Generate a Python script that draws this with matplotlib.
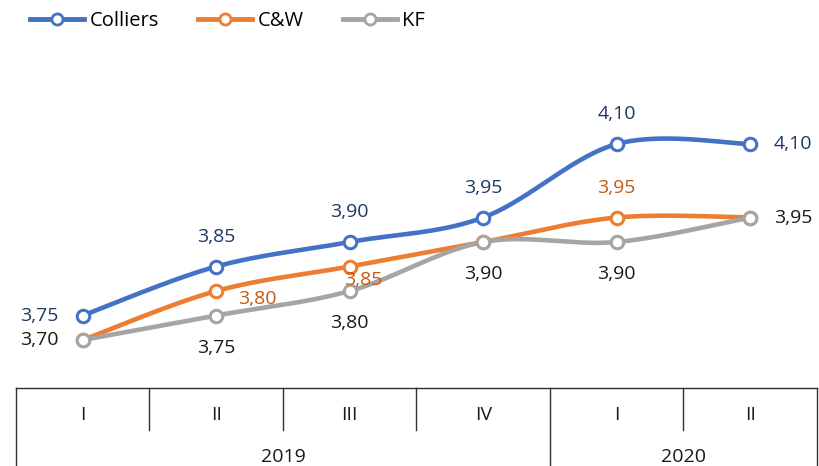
import numpy as np
import matplotlib
matplotlib.use("Agg")
import matplotlib.pyplot as plt
from matplotlib.lines import Line2D

plt.rcParams['font.family'] = ['Open Sans', 'DejaVu Sans']

quarters = ["I", "II", "III", "IV", "I", "II"]
years = ["2019", "2020"]
year_spans = [(0, 3), (4, 5)]
series_names = ["Colliers", "C&W", "KF"]
colliers = [3.75, 3.85, 3.90, 3.95, 4.10, 4.10]
cw = [3.70, 3.80, 3.85, 3.90, 3.95, 3.95]
kf = [3.70, 3.75, 3.80, 3.90, 3.90, 3.95]

colors = ["#4472C4", "#ED7D31", "#A5A5A5"]
label_colors = ["#1F3864", "#C55A11", "#1a1a1a"]

# label placement per point (offset in points from the marker); None = no label
pos_colliers = ["left", "above", "above", "above", "above", "right"]
pos_cw = [None, "right_low", "below_right", None, "above", None]
pos_kf = ["left", "below", "below", "below", "below", "right"]

W, H = 820, 466
fig = plt.figure(figsize=(W / 100, H / 100), dpi=100)

def fx(px):
    return px / W

def fy(py):
    return 1 - py / H

ax_top, ax_bot = 40, 388
ax = fig.add_axes([fx(16), fy(ax_bot), fx(817) - fx(16), (ax_bot - ax_top) / H])
ax.set_xlim(-0.5, 5.5)
ax.set_ylim(3.70 - 48 / 490, 3.70 + 300 / 490)
ax.axis("off")


def smooth(xs, ys, n=40):
    pts = np.column_stack([xs, ys]).astype(float)
    ext = np.vstack([pts[0], pts, pts[-1]])
    out = []
    for i in range(len(pts) - 1):
        p0 = ext[i + 1]
        p3 = ext[i + 2]
        c1 = p0 + (ext[i + 2] - ext[i]) / 6
        c2 = p3 - (ext[i + 3] - ext[i + 1]) / 6
        t = np.linspace(0, 1, n)[:, None]
        seg = ((1 - t) ** 3) * p0 + 3 * ((1 - t) ** 2) * t * c1 + 3 * (1 - t) * t ** 2 * c2 + t ** 3 * p3
        out.append(seg if i == 0 else seg[1:])
    out = np.vstack(out)
    return out[:, 0], out[:, 1]

xs = np.arange(len(quarters))
pt = 0.72  # points per pixel at 100 dpi
offsets = {
    "above": (0, 30 * pt),
    "below": (0, -32 * pt),
    "left": (-43 * pt, 0),
    "right": (43 * pt, 0),
    "right_low": (41 * pt, -8 * pt),
    "below_right": (14 * pt, -13 * pt),
}

all_series = [colliers, cw, kf]
all_pos = [pos_colliers, pos_cw, pos_kf]
line_z = {1: 2, 2: 3, 0: 4}
mark_z = {0: 10, 1: 11, 2: 12}
for k in range(3):
    sx, sy = smooth(xs, all_series[k])
    ax.plot(sx, sy, color=colors[k], lw=3.3, solid_capstyle="round", zorder=line_z[k])
for k in range(3):
    ax.plot(xs, all_series[k], ls="none", marker="o", ms=9, mfc="white", mec=colors[k], mew=2.2,
            zorder=mark_z[k])

for k in range(3):
    for i, (v, p) in enumerate(zip(all_series[k], all_pos[k])):
        if p is None:
            continue
        dx, dy = offsets[p]
        ax.annotate(f"{v:.2f}".replace(".", ","), (xs[i], v), xytext=(dx, dy),
                    textcoords="offset points", ha="center", va="center", fontsize=14,
                    color=label_colors[k], zorder=20)

# category axis table
tax = fig.add_axes([fx(16), 0, fx(817) - fx(16), (H - ax_bot) / H])
tax.set_xlim(-0.5, 5.5)
tax.set_ylim(0, 1)
tax.axis("off")
lc = "#303030"
tax.plot([-0.5, 5.5], [1, 1], color=lc, lw=1, clip_on=False)
tax.plot([-0.5, -0.5], [0, 1], color=lc, lw=1, clip_on=False)
tax.plot([5.5, 5.5], [0, 1], color=lc, lw=1, clip_on=False)
year_bounds = [s[1] + 0.5 for s in year_spans[:-1]]
for b in np.arange(0.5, len(quarters) - 0.5, 1.0):
    if b in year_bounds:
        tax.plot([b, b], [0, 1], color=lc, lw=1, clip_on=False)
    else:
        tax.plot([b, b], [0.46, 1], color=lc, lw=1, clip_on=False)
for i, q in enumerate(quarters):
    tax.text(i, 0.654, q, ha="center", va="center", fontsize=14, color="#1a1a1a")
for y, (a, b) in zip(years, year_spans):
    tax.text((a + b) / 2, 0.115, y, ha="center", va="center", fontsize=14, color="#1a1a1a")

handles = [Line2D([0], [0], color=colors[k], lw=3.5, marker="o", ms=8, mfc="white", mec=colors[k], mew=2.0)
           for k in range(3)]
fig.legend(handles, series_names, loc="center left", bbox_to_anchor=(fx(30), fy(21)), ncol=3,
           frameon=False, fontsize=14.5, handlelength=2.7, handletextpad=0.25, columnspacing=1.95,
           borderaxespad=0, borderpad=0)

fig.savefig("out.png", dpi=100)
